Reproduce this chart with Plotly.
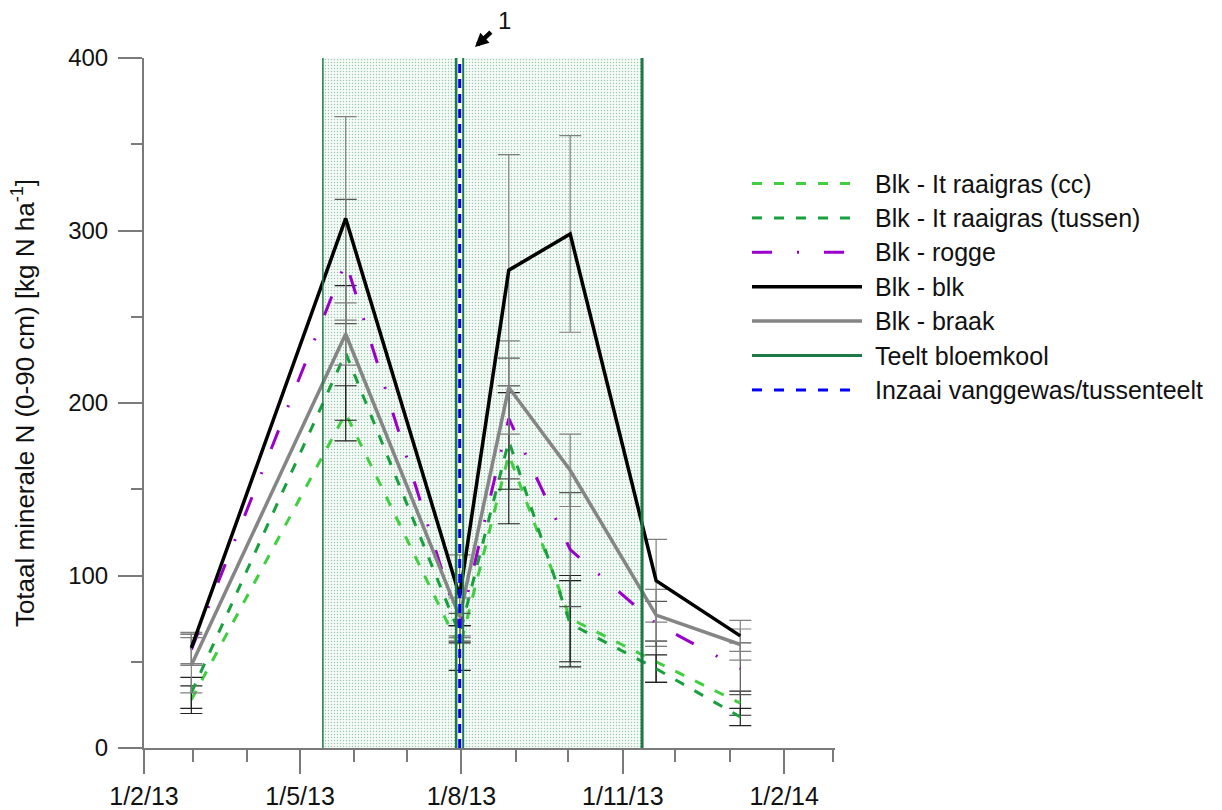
import plotly.graph_objects as go

# Sampling dates and mineral N (0-90 cm) per treatment, kg N/ha
sample_dates = ["2013-02-28", "2013-05-27", "2013-07-31", "2013-08-28",
                "2013-10-02", "2013-11-20", "2014-01-07"]

raaigras_cc = [28, 194, 58, 170, 75, 50, 26]
raaigras_tussen = [32, 229, 66, 178, 72, 46, 18]
rogge = [57, 282, 70, 191, 115, 72, 46]
blk = [58, 307, 88, 277, 298, 97, 65]
braak = [48, 240, 76, 209, 161, 77, 60]

raaigras_cc_err = [8, 16, 13, 40, 25, 12, 7]
raaigras_tussen_err = [9, 39, 5, 28, 25, 8, 5]
rogge_err = [9, 36, 8, 35, 33, 13, 15]
blk_err = [9, 59, 24, 67, 57, 24, 9]
braak_err = [16, 18, 11, 27, 21, 15, 9]

# Cauliflower cultivation periods and sowing date of catch crop / intercrop
teelt_start = ["2013-05-14", "2013-08-02"]
teelt_end = ["2013-07-29", "2013-11-12"]
teelt_line_widths = [1.5, 2.5, 2, 3]
inzaai_date = "2013-07-31"

legend_labels = ["Blk - It raaigras (cc)", "Blk - It raaigras (tussen)", "Blk - rogge",
                 "Blk - blk", "Blk - braak", "Teelt bloemkool",
                 "Inzaai vanggewas/tussenteelt"]

Y_MIN, Y_MAX = 0, 400
X_RANGE = ["2013-02-01", "2014-03-02"]

C_CC = "#3fcf3f"
C_TUSSEN = "#17a03c"
C_ROGGE = "#9a00cc"
C_BLK = "#000000"
C_BRAAK = "#858585"
C_TEELT = "#1b7a45"
C_INZAAI = "#0000ff"
AXIS = "#7a7a7a"
FONT = "Liberation Sans, Arial, sans-serif"
TXT = "#111111"

DASH_GREEN = "10px,12px"
DASH_ROGGE = "20px,25px,2px,25px"
DASH_BLUE = "9px,6px"

fig = go.Figure()

# Dotted fill for the cultivation periods
for s, e in zip(teelt_start, teelt_end):
    fig.add_trace(go.Scatter(
        x=[s, s, e, e, s], y=[Y_MIN, Y_MAX, Y_MAX, Y_MIN, Y_MIN],
        mode="none", fill="toself", fillcolor="#f6fbf8",
        fillpattern=dict(shape=".", fgcolor="#3a9464", bgcolor="#f6fbf8",
                         size=3, solidity=0.18),
        showlegend=False, hoverinfo="skip"))

series = [
    (legend_labels[0], raaigras_cc, raaigras_cc_err, C_CC, 3, DASH_GREEN, "#222222"),
    (legend_labels[1], raaigras_tussen, raaigras_tussen_err, C_TUSSEN, 3, DASH_GREEN, "#222222"),
    (legend_labels[2], rogge, rogge_err, C_ROGGE, 3, DASH_ROGGE, "#555555"),
    (legend_labels[4], braak, braak_err, C_BRAAK, 3.5, "solid", "#808080"),
    (legend_labels[3], blk, blk_err, C_BLK, 3.5, "solid", "#808080"),
]
for name, vals, errs, color, width, dash, ecolor in series:
    fig.add_trace(go.Scatter(
        x=sample_dates, y=vals, name=name, mode="lines",
        line=dict(color=color, width=width, dash=dash),
        error_y=dict(type="data", array=errs, visible=True,
                     color=ecolor, thickness=1.2, width=11),
        showlegend=False))

# Vertical markers: start/end of cauliflower crops and sowing date
teelt_dates = [teelt_start[0], teelt_end[0], teelt_start[1], teelt_end[1]]
for d, w in zip(teelt_dates, teelt_line_widths):
    fig.add_trace(go.Scatter(x=[d, d], y=[Y_MIN, Y_MAX], mode="lines",
                             line=dict(color=C_TEELT, width=w),
                             showlegend=False, hoverinfo="skip"))
fig.add_trace(go.Scatter(x=[inzaai_date, inzaai_date], y=[Y_MIN, Y_MAX], mode="lines",
                         line=dict(color=C_INZAAI, width=3, dash=DASH_BLUE),
                         showlegend=False, hoverinfo="skip"))

# Plot-area geometry in pixels, used for the hand-drawn legend
W, H = 1222, 810
L, R, T, B = 144, 387, 58, 62
pw, ph = W - L - R, H - T - B


def px_x(px):
    return (px - L) / pw


def px_y(py):
    return (H - B - py) / ph


legend_styles = [
    (C_CC, DASH_GREEN, 3),
    (C_TUSSEN, DASH_GREEN, 3),
    (C_ROGGE, DASH_ROGGE, 3),
    (C_BLK, "solid", 3.5),
    (C_BRAAK, "solid", 3.5),
    (C_TEELT, "solid", 3),
    (C_INZAAI, DASH_GREEN, 3),
]
shapes = []
annotations = []
for i, (label, (col, dash, w)) in enumerate(zip(legend_labels, legend_styles)):
    yy = 183.5 + i * 34.4
    shapes.append(dict(type="line", xref="paper", yref="paper",
                       x0=px_x(752), x1=px_x(862), y0=px_y(yy), y1=px_y(yy),
                       line=dict(color=col, width=w, dash=dash)))
    annotations.append(dict(xref="paper", yref="paper", x=px_x(873), y=px_y(yy),
                            text=label, showarrow=False, xanchor="left", yanchor="middle",
                            font=dict(family=FONT, size=25, color=TXT)))

# Label "1" with an arrow pointing at the sowing date
annotations.append(dict(xref="paper", yref="paper", x=px_x(475), y=px_y(47),
                        text="1", showarrow=True, arrowhead=2, arrowsize=0.6,
                        arrowwidth=4.5, arrowcolor="black", ax=29, ay=-27,
                        startstandoff=7, font=dict(family=FONT, size=24, color=TXT)))

fig.update_layout(
    width=W, height=H,
    margin=dict(l=L, r=R, t=T, b=B, autoexpand=False),
    plot_bgcolor="white", paper_bgcolor="white",
    showlegend=False,
    font=dict(family=FONT, size=24, color=TXT),
    shapes=shapes, annotations=annotations,
    xaxis=dict(
        type="date", range=X_RANGE, showgrid=False, zeroline=False,
        automargin=False,
        showline=True, linecolor=AXIS, linewidth=2,
        ticks="outside", ticklen=24, tickwidth=2, tickcolor=AXIS,
        tick0="2013-02-01", dtick="M3", tickformat="%-d/%-m/%y",
        ticklabelstandoff=1,
        tickfont=dict(family=FONT, size=25, color=TXT),
        minor=dict(ticks="outside", ticklen=12, tickwidth=2, tickcolor=AXIS,
                   tick0="2013-02-01", dtick="M1", showgrid=False),
    ),
    yaxis=dict(
        range=[Y_MIN, Y_MAX], showgrid=False, zeroline=False,
        automargin=False,
        showline=True, linecolor=AXIS, linewidth=2,
        ticks="outside", ticklen=24, tickwidth=2, tickcolor=AXIS,
        tick0=0, dtick=100, ticklabelstandoff=5,
        tickfont=dict(family=FONT, size=24, color=TXT),
        minor=dict(ticks="outside", ticklen=11, tickwidth=2, tickcolor=AXIS,
                   dtick=50, showgrid=False),
        title=dict(text="Totaal minerale N (0-90 cm) [kg N ha<sup>-1</sup>]",
                   font=dict(family=FONT, size=26, color=TXT), standoff=26),
    ),
)

fig.write_html("out.html")
